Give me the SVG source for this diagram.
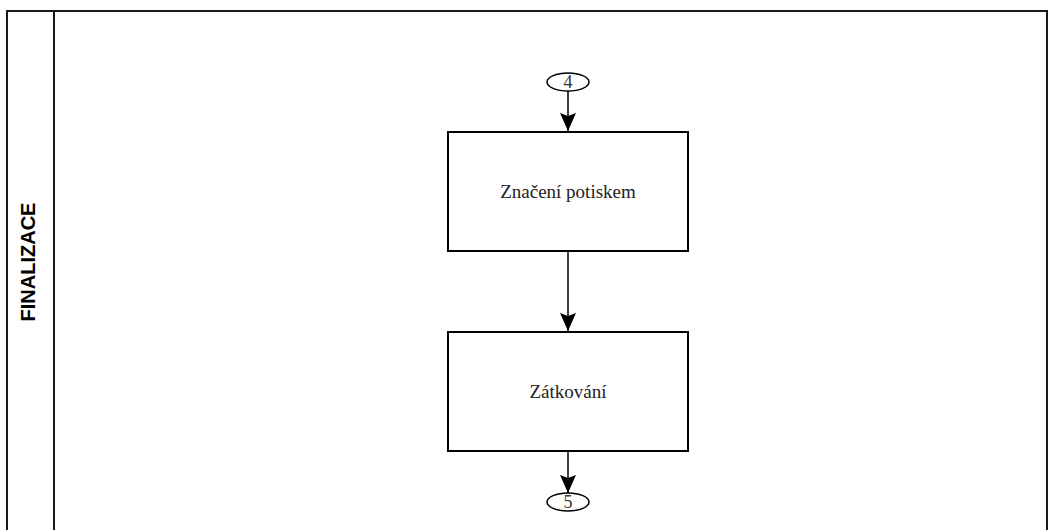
<svg xmlns="http://www.w3.org/2000/svg" width="1049" height="530" viewBox="0 0 1049 530">
<style>
.frame{fill:none;stroke:#1a1a1a;stroke-width:2}
.box{fill:#fff;stroke:#000;stroke-width:2}
.conn{stroke:#000;stroke-width:1.5;fill:none}
.lbl{font-family:"Liberation Serif",serif;font-size:19px;fill:#222;text-anchor:middle}
.ref{font-family:"Liberation Serif",serif;font-size:18px;fill:#333;text-anchor:middle}
.lane{font-family:"Liberation Sans",Arial,sans-serif;font-size:20px;font-weight:bold;fill:#000;text-anchor:middle}
</style>
<defs>
<marker id="arr" markerWidth="18" markerHeight="16" refX="18" refY="8" orient="auto" markerUnits="userSpaceOnUse" viewBox="0 0 18 16">
<path d="M0,0 L18,8 L0,16 L3,8 Z" fill="#000"/>
</marker>
</defs>
<rect width="1049" height="530" fill="#fff"/>
<g id="lane">
<path class="frame" d="M7,540 V11 H1047 V540"/>
<line class="frame" x1="54" y1="11" x2="54" y2="540"/>
<text class="lane" transform="translate(35,262) rotate(-90)">FINALIZACE</text>
</g>
<g id="connectors">
<line class="conn" x1="568" y1="91" x2="568" y2="131" marker-end="url(#arr)"/>
<line class="conn" x1="568" y1="251" x2="568" y2="331" marker-end="url(#arr)"/>
<line class="conn" x1="568" y1="451" x2="568" y2="493" marker-end="url(#arr)"/>
</g>
<g id="ref4">
<ellipse cx="568" cy="82" rx="21" ry="9" fill="#fff" stroke="#000" stroke-width="1.5"/>
<text class="ref" x="568" y="88">4</text>
</g>
<g id="node1">
<rect class="box" x="448" y="132" width="240" height="119"/>
<text class="lbl" x="568" y="198">Značení potiskem</text>
</g>
<g id="node2">
<rect class="box" x="448" y="332" width="240" height="119"/>
<text class="lbl" x="568" y="398">Zátkování</text>
</g>
<g id="ref5">
<ellipse cx="568" cy="502" rx="21" ry="9" fill="#fff" stroke="#000" stroke-width="1.5"/>
<text class="ref" x="568" y="508">5</text>
</g>
</svg>
